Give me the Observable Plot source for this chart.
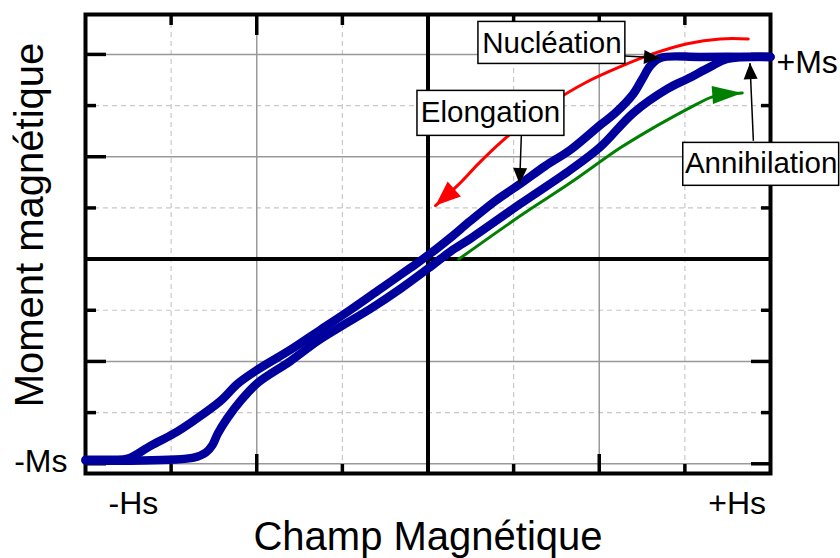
<!DOCTYPE html>
<html><head><meta charset="utf-8">
<script src="https://cdn.jsdelivr.net/npm/d3@7"></script>
<script src="https://cdn.jsdelivr.net/npm/@observablehq/plot@0.6"></script>
<style>body{margin:0;background:#fff}#chart svg{display:block}</style>
</head><body><div id="chart"></div>
<script>
// Descending branch (from +Hs to -Hs), field H and moment M (arbitrary units)
const descH = [4.0, 3.18, 2.713, 2.596, 2.503, 2.398, 2.188, 2.013, 1.663, 1.371, 1.079, 0.788, 0.496, 0.263, 0.029, -0.204, -0.554, -0.904, -1.254, -1.604, -1.99, -2.223, -2.421, -2.736, -2.97, -3.238, -3.506, -3.705, -4.0];
const descM = [3.95, 3.95, 3.932, 3.775, 3.521, 3.229, 2.857, 2.623, 2.135, 1.822, 1.471, 1.139, 0.748, 0.42, 0.11, -0.17, -0.58, -0.99, -1.38, -1.77, -2.16, -2.436, -2.768, -3.158, -3.412, -3.646, -3.9, -3.92, -3.92];
// Ascending branch (from -Hs to +Hs)
const ascH = [-4.0, -3.506, -2.736, -2.596, -2.515, -2.456, -2.34, -2.188, -1.99, -1.604, -1.289, -1.021, -0.671, -0.321, 0.029, 0.263, 0.496, 1.079, 1.663, 2.013, 2.398, 2.795, 3.028, 3.296, 3.495, 4.0];
const ascM = [-3.939, -3.939, -3.881, -3.783, -3.627, -3.412, -3.1, -2.768, -2.42, -1.99, -1.6, -1.32, -0.97, -0.58, -0.15, 0.15, 0.40, 1.08, 1.744, 2.193, 2.857, 3.326, 3.521, 3.756, 3.912, 3.951];
// Red guide arrow (descending direction)
const redH = [3.74, 3.413, 3.028, 2.631, 2.246, 1.838, 1.464, 1.138, 0.846, 0.59, 0.356, 0.088];
const redM = [4.302, 4.302, 4.209, 4.014, 3.76, 3.447, 3.076, 2.686, 2.276, 1.866, 1.455, 1.045];
// Green guide arrow (ascending direction)
const greenH = [0.36, 1.079, 1.663, 2.246, 2.631, 2.946, 3.145, 3.32, 3.67];
const greenM = [0.0, 0.846, 1.49, 2.174, 2.564, 2.857, 3.033, 3.17, 3.248];
// Annotations
const noteLabels = ["Nucléation", "Elongation", "Annihilation"];
const noteH = [1.447, 0.73, 3.891];
const noteM = [4.22, 2.857, 1.861];
const boxH1 = [0.589, -0.123, 2.981];
const boxH2 = [2.305, 1.593, 4.802];
const boxM1 = [3.814, 2.408, 1.432];
const boxM2 = [4.635, 3.287, 2.271];
const arrowH1 = [2.30, 1.09, 3.80];
const arrowM1 = [3.97, 2.41, 2.31];
const arrowH2 = [2.71, 1.07, 3.76];
const arrowM2 = [3.93, 1.47, 3.83];
// Level / field labels
const msLabels = ["-Ms", "+Ms"];
const msValues = [-4, 4];
const hsLabels = ["-Hs", "+Hs"];
const hsValues = [-3.44, 3.61];
const majorTicks = [-2, 2];
const minorTicksX = [-3, -1, 1, 3];
const majorTicksY = [-4, -2, 2, 4];
const minorTicksY = [-3, -1, 1, 3];

const zip = (a, b) => a.map((v, i) => ({h: v, m: b[i]}));
const desc = zip(descH, descM);
const asc = zip(ascH, ascM);
const red = zip(redH, redM);
const green = zip(greenH, greenM);
const notes = noteLabels.map((t, i) => ({t, h: noteH[i], m: noteM[i], h1: boxH1[i], h2: boxH2[i], m1: boxM1[i], m2: boxM2[i],
  ah1: arrowH1[i], am1: arrowM1[i], ah2: arrowH2[i], am2: arrowM2[i]}));

function tri(len, wid) {
  return (color) => {
    const m = d3.create("svg:marker")
      .attr("viewBox", `0 ${-wid / 2} ${len} ${wid}`)
      .attr("refX", len).attr("refY", 0)
      .attr("markerWidth", len).attr("markerHeight", wid)
      .attr("markerUnits", "userSpaceOnUse")
      .attr("orient", "auto")
      .attr("overflow", "visible");
    m.append("path").attr("d", `M0,${-wid / 2}L${len},0L0,${wid / 2}Z`).attr("fill", color).attr("stroke", "none");
    return m.node();
  };
}

const font = "Liberation Sans, Arial, sans-serif";
const tickOpts = {tickFormat: () => "", label: null, strokeWidth: 3.5, stroke: "#000"};

const chart = Plot.plot({
  width: 840, height: 558,
  marginLeft: 85, marginRight: 70, marginTop: 14, marginBottom: 85,
  style: {fontFamily: font, background: "#fff"},
  x: {domain: [-4, 4]},
  y: {domain: [-4.19, 4.78]},
  marks: [
    Plot.ruleX(minorTicksX, {stroke: "#c8c8c8", strokeWidth: 1.2, strokeDasharray: "5,4"}),
    Plot.ruleY(minorTicksY, {stroke: "#c8c8c8", strokeWidth: 1.2, strokeDasharray: "5,4"}),
    Plot.ruleX(majorTicks, {stroke: "#999", strokeWidth: 1.5}),
    Plot.ruleY(majorTicksY, {stroke: "#999", strokeWidth: 1.5}),
    Plot.ruleX([0], {stroke: "#000", strokeWidth: 4}),
    Plot.ruleY([0], {stroke: "#000", strokeWidth: 4}),
    Plot.axisX(majorTicks, {anchor: "bottom", tickSize: -19, ...tickOpts}),
    Plot.axisX(minorTicksX, {anchor: "bottom", tickSize: -9, ...tickOpts}),
    Plot.axisX(majorTicks, {anchor: "top", tickSize: -20, ...tickOpts}),
    Plot.axisX(minorTicksX, {anchor: "top", tickSize: -10, ...tickOpts}),
    Plot.axisY(majorTicksY, {anchor: "left", tickSize: -21, ...tickOpts}),
    Plot.axisY(minorTicksY, {anchor: "left", tickSize: -11, ...tickOpts}),
    Plot.axisY(majorTicksY, {anchor: "right", tickSize: -20, ...tickOpts}),
    Plot.axisY(minorTicksY, {anchor: "right", tickSize: -10, ...tickOpts}),
    Plot.frame({stroke: "#000", strokeWidth: 4}),
    Plot.line(red, {x: "h", y: "m", stroke: "#ff0000", strokeWidth: 3, curve: "catmull-rom", markerEnd: tri(25, 20)}),
    Plot.line(green, {x: "h", y: "m", stroke: "#008000", strokeWidth: 3, curve: "catmull-rom", markerEnd: tri(30, 18)}),
    Plot.line(desc, {x: "h", y: "m", stroke: "#00009c", strokeWidth: 8.5, strokeLinejoin: "round", curve: "catmull-rom"}),
    Plot.line(asc, {x: "h", y: "m", stroke: "#00009c", strokeWidth: 8.5, strokeLinejoin: "round", curve: "catmull-rom"}),
    Plot.rect(notes, {x1: "h1", x2: "h2", y1: "m1", y2: "m2", fill: "#fff", stroke: "#000", strokeWidth: 1.5}),
    Plot.text(notes, {x: "h", y: "m", text: "t", fontSize: 29.5, fill: "#000"}),
    Plot.link(notes, {x1: "ah1", y1: "am1", x2: "ah2", y2: "am2", stroke: "#000", strokeWidth: 1.5, markerEnd: tri(16, 14)}),
    Plot.text([msLabels[0]], {x: msValues[0], y: msValues[0], text: d => d, textAnchor: "end", dx: -18, dy: -2, fontSize: 32, fill: "#000"}),
    Plot.text([msLabels[1]], {x: msValues[1], y: msValues[1], text: d => d, textAnchor: "start", dx: 6, dy: 8, fontSize: 32, fill: "#000"}),
    Plot.text(hsLabels, {x: (d, i) => hsValues[i], frameAnchor: "bottom", lineAnchor: "middle", text: d => d, dy: 30, fontSize: 32, fill: "#000"}),
    Plot.text(["Champ Magnétique"], {frameAnchor: "bottom", lineAnchor: "middle", textAnchor: "middle", text: d => d, dy: 64, fontSize: 40, fill: "#000"}),
    Plot.text(["Moment magnétique"], {frameAnchor: "left", lineAnchor: "middle", textAnchor: "middle", text: d => d, rotate: -90, dx: -55, dy: -19, fontSize: 40, fill: "#000"})
  ]
});
document.getElementById("chart").appendChild(chart);
</script>
</body></html>
